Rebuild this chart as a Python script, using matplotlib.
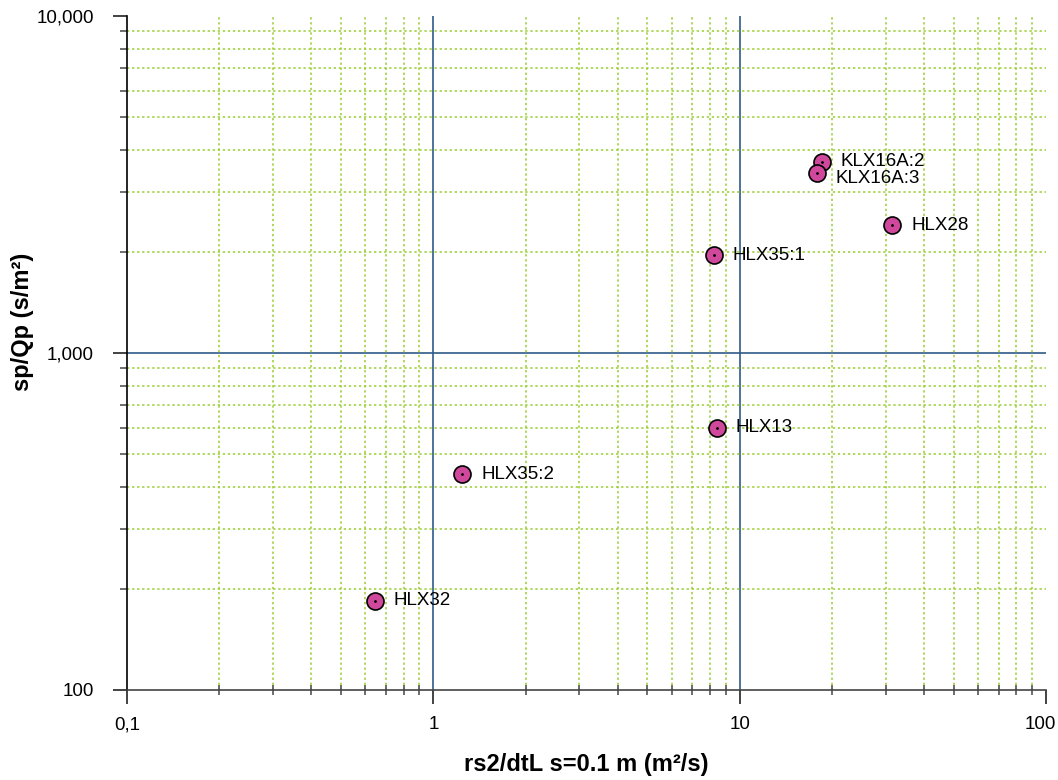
import matplotlib.pyplot as plt
import matplotlib.ticker as mticker
import matplotlib.transforms as mtransforms
import numpy as np

plt.rcParams['font.family'] = ['Liberation Sans', 'DejaVu Sans']

# --- Daten ---
names = ["KLX16A:2", "KLX16A:3", "HLX28", "HLX35:1", "HLX13", "HLX35:2", "HLX32"]
x_vals = [18.5, 17.9, 31.5, 8.24, 8.41, 1.244, 0.643]
y_vals = [3700, 3430, 2390, 1950, 600, 436, 184]

x_ticks = [0.1, 1, 10, 100]
x_ticklabels = ["0,1", "1", "10", "100"]
y_ticks = [100, 1000, 10000]
y_ticklabels = ["100", "1,000", "10,000"]

fig = plt.figure(figsize=(10.58, 7.8), dpi=100)
ax = fig.add_axes([0.12, 0.1154, 0.8687, 0.8641])

ax.set_xscale("log")
ax.set_yscale("log")
ax.set_xlim(0.1, 100)
ax.set_ylim(100, 10000)

green = "#9acd32"
blue = "#2e5b87"

# Nebengitter
ax.xaxis.set_minor_locator(mticker.LogLocator(base=10, subs=np.arange(2, 10)))
ax.yaxis.set_minor_locator(mticker.LogLocator(base=10, subs=np.arange(2, 10)))
ax.xaxis.set_minor_formatter(mticker.NullFormatter())
ax.yaxis.set_minor_formatter(mticker.NullFormatter())
ax.grid(which="minor", color=green, linestyle=(0, (1.5, 1.8)), linewidth=1.1)

# Hauptlinien bei 1, 10 und 1000
for xv in [1, 10]:
    ax.axvline(xv, color=blue, linewidth=1.2, zorder=1)
ax.axhline(1000, color=blue, linewidth=1.2, zorder=1)

ax.set_xticks(x_ticks)
ax.set_xticklabels(x_ticklabels)
ax.set_yticks(y_ticks)
ax.set_yticklabels(y_ticklabels)

ax.tick_params(axis="both", which="major", labelsize=13.5, length=10, width=1.2,
               color="#222222")
ax.tick_params(axis="x", which="major", direction="out", pad=9)
ax.tick_params(axis="y", which="major", direction="out", pad=14)
ax.tick_params(axis="x", which="minor", direction="inout", length=7, width=1.2,
               color="#555555")
ax.tick_params(axis="y", which="minor", direction="out", length=5, width=1.2,
               color="#555555")

# letzte x-Beschriftung etwas nach links, damit sie nicht abgeschnitten wird
last = ax.get_xticklabels()[-1]
last.set_transform(last.get_transform() +
                   mtransforms.ScaledTranslation(-6 / 100, 0, fig.dpi_scale_trans))

for s in ["top", "right"]:
    ax.spines[s].set_visible(False)
ax.spines["left"].set_linewidth(1.2)
ax.spines["bottom"].set_linewidth(1.2)
ax.spines["bottom"].set_color("#444444")

ax.scatter(x_vals, y_vals, s=150, facecolor="#d0489c", edgecolor="black",
           linewidth=1.2, zorder=5, clip_on=False)
ax.scatter(x_vals, y_vals, s=1, color="black", zorder=6)

for n, xv, yv in zip(names, x_vals, y_vals):
    dy = -4 if n == "KLX16A:3" else 0
    ax.annotate(n, (xv, yv), xytext=(13.5, dy), textcoords="offset points",
                va="center", ha="left", fontsize=13.5, zorder=7)

ax.set_xlabel("rs2/dtL s=0.1 m (m²/s)", fontsize=17, fontweight="bold", labelpad=14)
ax.set_ylabel("sp/Qp (s/m²)", fontsize=17, fontweight="bold")
ax.yaxis.set_label_coords(-0.101, 0.546)

fig.savefig("out.png", dpi=100)
